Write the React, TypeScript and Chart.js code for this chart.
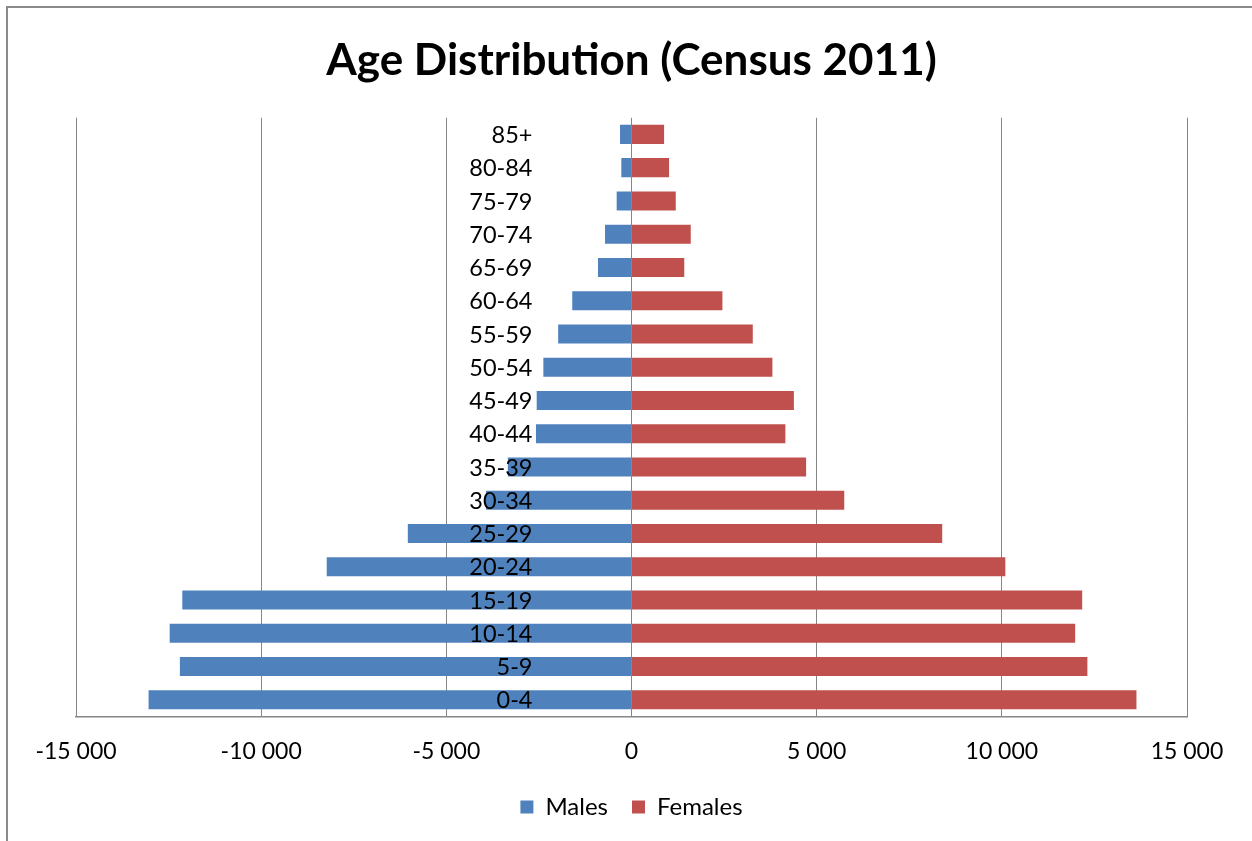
import React, { useEffect, useRef } from "react";
import { Chart, registerables } from "chart.js";

Chart.register(...registerables);

const ageGroups = [
  "0-4", "5-9", "10-14", "15-19", "20-24", "25-29", "30-34", "35-39", "40-44",
  "45-49", "50-54", "55-59", "60-64", "65-69", "70-74", "75-79", "80-84", "85+",
];
const males = [
  -13040, -12195, -12470, -12130, -8230, -6040, -3930, -3340, -2580,
  -2560, -2380, -1980, -1600, -905, -715, -400, -275, -310,
];
const females = [
  13635, 12310, 11980, 12170, 10095, 8390, 5745, 4715, 4155,
  4385, 3805, 3275, 2455, 1425, 1600, 1195, 1015, 880,
];
const xTicks = [-15000, -10000, -5000, 0, 5000, 10000, 15000];
const xTickLabels = ["-15 000", "-10 000", "-5 000", "0", "5 000", "10 000", "15 000"];

const FONT = "Lato, 'Open Sans', sans-serif";

const categoryLabelPlugin = {
  id: "categoryLabels",
  afterDatasetsDraw(chart: any) {
    const { ctx, scales } = chart;
    const xs = scales.x;
    const ys = scales.y;
    const x0 = xs.getPixelForValue(0) - 99;
    ctx.save();
    ctx.font = `23.5px ${FONT}`;
    ctx.fillStyle = "#000";
    ctx.textAlign = "right";
    ctx.textBaseline = "middle";
    ageGroups.forEach((lab, i) => {
      ctx.fillText(lab, x0, ys.getPixelForValue(i) + 1);
    });
    ctx.restore();
  },
};

export default function App() {
  const ref = useRef<HTMLCanvasElement>(null);
  useEffect(() => {
    if (!ref.current) return;
    Chart.defaults.color = "#000";
    const chart = new Chart(ref.current, {
      type: "bar",
      data: {
        labels: ageGroups,
        datasets: [
          {
            label: "Males",
            data: males,
            backgroundColor: "#4F81BD",
            borderWidth: 0,
            barPercentage: 0.575,
            categoryPercentage: 1,
          },
          {
            label: "Females",
            data: females,
            backgroundColor: "#C0504D",
            borderWidth: 0,
            barPercentage: 0.575,
            categoryPercentage: 1,
          },
        ],
      },
      options: {
        indexAxis: "y",
        responsive: false,
        animation: false,
        layout: { padding: { left: 76, right: 65, top: 0, bottom: 12 } },
        scales: {
          x: {
            type: "linear",
            min: -15000,
            max: 15000,
            stacked: true,
            afterBuildTicks: (scale: any) => {
              scale.ticks = xTicks.map((v) => ({ value: v }));
            },
            afterFit: (scale: any) => {
              scale.height -= 15;
            },
            ticks: {
              font: { family: FONT, size: 23 },
              padding: 21,
              maxRotation: 0,
              autoSkip: false,
              callback: (v: any) => {
                const i = xTicks.indexOf(Number(v));
                return i >= 0 ? xTickLabels[i] : "";
              },
            },
            grid: { color: "#868686", lineWidth: 1, drawTicks: false },
            border: { display: true, color: "#868686", width: 1.5 },
          },
          y: {
            type: "category",
            stacked: true,
            reverse: true,
            display: false,
          },
        },
        plugins: {
          title: {
            display: true,
            text: "Age Distribution (Census 2011)",
            font: { family: FONT, size: 44, weight: "bold" },
            color: "#000",
            padding: { top: 34, bottom: 31 },
          },
          legend: {
            position: "bottom",
            labels: {
              font: { family: FONT, size: 24 },
              boxWidth: 13,
              boxHeight: 13,
              padding: 24,
              color: "#000",
            },
          },
          tooltip: { enabled: false },
        },
      },
      plugins: [categoryLabelPlugin],
    });
    return () => chart.destroy();
  }, []);

  return (
    <div style={{ position: "fixed", left: 0, top: 0, width: 1252, height: 841, background: "#fff" }}>
      <div
        style={{
          position: "absolute",
          left: 6,
          top: 6,
          width: 1250,
          height: 900,
          borderLeft: "2px solid #8a8a8a",
          borderTop: "2px solid #8a8a8a",
        }}
      />
      <canvas ref={ref} width={1252} height={841} style={{ position: "absolute", left: 0, top: 0 }} />
    </div>
  );
}
